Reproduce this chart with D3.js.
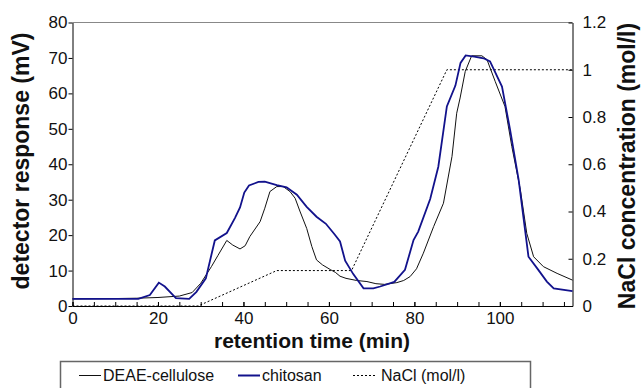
<!DOCTYPE html>
<html>
<head>
<meta charset="utf-8">
<script src="https://cdn.jsdelivr.net/npm/d3@7"></script>
<style>
  body { margin: 0; background: #fff; }
  svg text { font-family: "Liberation Sans", Arial, sans-serif; fill: #111; }
</style>
</head>
<body>
<div id="diagram"></div>
<script>
// DEAE-cellulose trace (black)
const deaeTime = [0, 10, 15, 20, 25, 28, 30, 32.5, 34, 36.1, 37.5, 39.2, 40.4, 41.5, 43.9, 45, 46.2, 47.8, 49.3, 50.9, 52.1, 53.2, 54.8, 56, 57.1, 58.5, 60.3, 61.5, 62.6, 64, 66.5, 68.9, 71, 73, 75.9, 77.5, 79, 80.5, 82.1, 84.5, 86.8, 88.8, 89.9, 90.7, 91.9, 93.4, 95.8, 97, 98.9, 101.2, 102.8, 104.8, 106.3, 107.9, 110.2, 113.4, 117];
const deaeMv = [2, 2.1, 2.2, 2.4, 2.8, 3.8, 6.4, 11.1, 14.2, 18.5, 17.2, 16.1, 17, 19.6, 23.8, 27.6, 32.3, 33.7, 33.7, 32.3, 30.4, 26.8, 21.9, 16.8, 13, 11.6, 10.3, 9.5, 8.4, 7.8, 7.2, 6.9, 6.3, 6.1, 6.6, 7.2, 8.3, 10.5, 14.9, 22.4, 29, 42.2, 54.4, 58.7, 66.2, 70.6, 70.6, 69.5, 63.4, 56.3, 45, 32.8, 20.5, 13.9, 11.1, 9.2, 7.3];

// chitosan trace (blue)
const chitoTime = [0, 15.4, 18.1, 20.2, 21.6, 24.2, 27.3, 29, 31.2, 33.3, 36.1, 38, 39.2, 40.2, 41.3, 43.5, 45, 47.8, 50.1, 52.5, 54.8, 57.1, 59.3, 61.4, 62.6, 63.8, 65.7, 68.1, 70.4, 72, 75.3, 77.8, 79.8, 80.9, 83.7, 85.6, 87.6, 89.6, 90.8, 92, 94, 96.2, 97.7, 100.5, 102.4, 104.4, 106.7, 109, 111, 112.6, 117];
const chitoMv = [2, 2, 3.1, 6.6, 5.5, 2.2, 2, 4, 7.8, 18.5, 20.6, 24.8, 27.8, 32, 34, 35, 35.1, 34.1, 33.5, 31.4, 28, 25.2, 23.2, 20.1, 18.2, 12.8, 9, 5, 5, 5.5, 6.8, 10.2, 18.6, 21, 30.2, 39.3, 56.3, 62.2, 68.6, 70.7, 70.4, 69.9, 69, 61.9, 49.7, 35.6, 13.9, 10.2, 6.9, 5, 4.2];

// NaCl gradient (dotted)
const naclTime = [0, 29.4, 47.8, 65.3, 87.6, 117];
const naclConc = [0, 0, 0.15, 0.15, 1, 1];

const xTicks = [0, 20, 40, 60, 80, 100];
const xMinorTicks = d3.range(0, 116, 5);
const mvTicks = [0, 10, 20, 30, 40, 50, 60, 70, 80];
const naclTicks = [0, 0.2, 0.4, 0.6, 0.8, 1, 1.2];

var margin = {top: 22.5, left: 72.5},
    width = 500,
    height = 283.5;

var svg = d3.select("#diagram")
  .append("svg")
  .attr("width", 643)
  .attr("height", 388);

var x = d3.scaleLinear().domain([0, 117]).range([margin.left, margin.left + width]);
var y = d3.scaleLinear().domain([0, 80]).range([margin.top + height, margin.top]);
var y2 = d3.scaleLinear().domain([0, 1.2]).range([margin.top + height, margin.top]);

// top frame line
svg.append("line")
  .attr("x1", x(0)).attr("x2", x(117))
  .attr("y1", margin.top).attr("y2", margin.top)
  .attr("stroke", "#888").attr("stroke-width", 1);

// x axis: ticks every 5 min (no labels), then labelled ticks every 20
var xMinor = svg.append("g")
  .attr("transform", "translate(0," + (margin.top + height) + ")")
  .call(d3.axisBottom(x).tickValues(xMinorTicks).tickSize(-4).tickSizeOuter(0));
xMinor.selectAll("text").remove();

var xAxis = svg.append("g")
  .attr("transform", "translate(0," + (margin.top + height) + ")")
  .call(d3.axisBottom(x).tickValues(xTicks).tickSize(-4).tickPadding(6).tickSizeOuter(0));

// left axis
var yAxis = svg.append("g")
  .attr("transform", "translate(" + margin.left + ",0)")
  .call(d3.axisLeft(y).tickValues(mvTicks).tickSize(4).tickPadding(1).tickSizeOuter(0));

// right axis
var y2Axis = svg.append("g")
  .attr("transform", "translate(" + (margin.left + width) + ",0)")
  .call(d3.axisRight(y2).tickValues(naclTicks).tickSize(-4).tickPadding(10).tickSizeOuter(0)
    .tickFormat(function(d) { return +d.toFixed(1); }));

[xMinor, xAxis, yAxis, y2Axis].forEach(function(g) {
  g.selectAll("text").style("font-size", "17px").attr("fill", "#111");
  g.selectAll("line, path").attr("stroke", "#000");
});

// curves
var line = d3.line()
  .x(function(d) { return x(d[0]); })
  .y(function(d) { return y(d[1]); });
var line2 = d3.line()
  .x(function(d) { return x(d[0]); })
  .y(function(d) { return y2(d[1]); });

svg.append("path")
  .datum(naclTime.map(function(t, i) { return [t, naclConc[i]]; }))
  .attr("d", line2)
  .attr("fill", "none")
  .attr("stroke", "#000")
  .attr("stroke-width", 1)
  .attr("stroke-dasharray", "2,2");

svg.append("path")
  .datum(deaeTime.map(function(t, i) { return [t, deaeMv[i]]; }))
  .attr("d", line)
  .attr("fill", "none")
  .attr("stroke", "#111")
  .attr("stroke-width", 1);

svg.append("path")
  .datum(chitoTime.map(function(t, i) { return [t, chitoMv[i]]; }))
  .attr("d", line)
  .attr("fill", "none")
  .attr("stroke", "#12128c")
  .attr("stroke-width", 1.8);

// axis titles
svg.append("text")
  .attr("x", 312).attr("y", 348)
  .attr("text-anchor", "middle")
  .style("font-size", "21px").style("font-weight", "bold")
  .text("retention time (min)");

svg.append("text")
  .attr("transform", "translate(29,161) rotate(-90)")
  .attr("text-anchor", "middle")
  .style("font-size", "23px").style("font-weight", "bold")
  .text("detector response (mV)");

svg.append("text")
  .attr("transform", "translate(635,166) rotate(-90)")
  .attr("text-anchor", "middle")
  .style("font-size", "23px").style("font-weight", "bold")
  .text("NaCl concentration (mol/l)");

// legend
svg.append("rect")
  .attr("x", 60.5).attr("y", 361.5)
  .attr("width", 470).attr("height", 40)
  .attr("fill", "none").attr("stroke", "#666").attr("stroke-width", 1.5);

var legendItems = [
  {label: "DEAE-cellulose", x: 79, color: "#111", w: 1, dash: null},
  {label: "chitosan", x: 238, color: "#12128c", w: 2, dash: null},
  {label: "NaCl (mol/l)", x: 353, color: "#000", w: 1, dash: "2,2"}
];
legendItems.forEach(function(d) {
  svg.append("line")
    .attr("x1", d.x).attr("x2", d.x + 22)
    .attr("y1", 375.5).attr("y2", 375.5)
    .attr("stroke", d.color).attr("stroke-width", d.w)
    .attr("stroke-dasharray", d.dash);
  svg.append("text")
    .attr("x", d.x + (d.dash ? 28 : 24)).attr("y", 381)
    .style("font-size", "16px")
    .text(d.label);
});
</script>
</body>
</html>
